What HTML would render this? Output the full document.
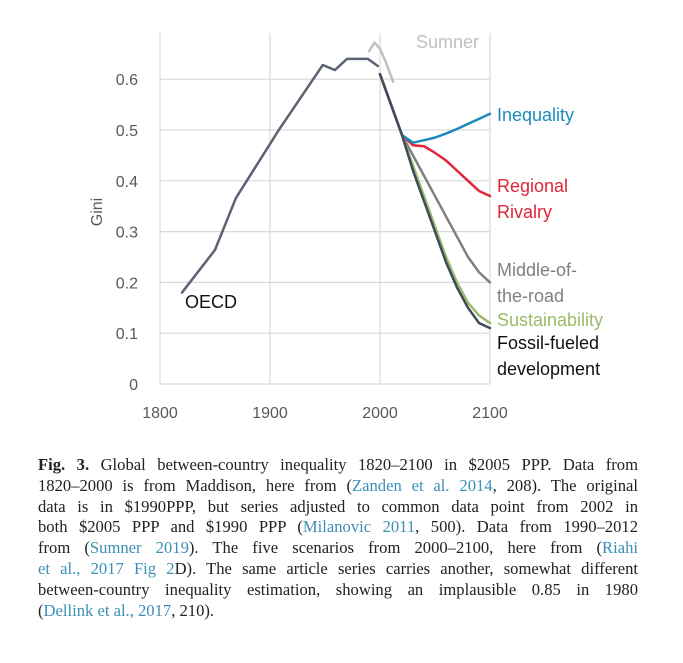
<!DOCTYPE html>
<html><head><meta charset="utf-8"><style>
body{margin:0;background:#fff;width:683px;height:663px;overflow:hidden;position:relative}
svg{position:absolute;left:0;top:0}
.cap{position:absolute;left:38px;top:455px;width:600px;font-family:"Liberation Serif",serif;font-size:16.6px;color:#222}
.cap div{height:20.8px;line-height:20.8px;text-align:justify;text-align-last:justify;white-space:nowrap}
.cap div.last{text-align-last:left}
.cap a{color:#3b8fb5;text-decoration:none}
</style></head><body>
<svg width="683" height="450" font-family="Liberation Sans, sans-serif">
<g id="grid"></g><g id="series"></g><g id="labels"></g>
</svg>
<div class="cap">
<div><b>Fig. 3.</b> Global between-country inequality 1820–2100 in $2005 PPP. Data from</div>
<div>1820–2000 is from Maddison, here from (<a>Zanden et al. 2014</a>, 208). The original</div>
<div>data is in $1990PPP, but series adjusted to common data point from 2002 in</div>
<div>both $2005 PPP and $1990 PPP (<a>Milanovic 2011</a>, 500). Data from 1990–2012</div>
<div>from (<a>Sumner 2019</a>). The five scenarios from 2000–2100, here from (<a>Riahi</a></div>
<div><a>et al., 2017 Fig 2</a>D). The same article series carries another, somewhat different</div>
<div>between-country inequality estimation, showing an implausible 0.85 in 1980</div>
<div class="last">(<a>Dellink et al., 2017</a>, 210).</div>
</div>
<script>
const xTicks=[1800,1900,2000,2100];
const yTicks=[0,0.1,0.2,0.3,0.4,0.5,0.6];
const yTickLabels=["0","0.1","0.2","0.3","0.4","0.5","0.6"];
const oecdYears=[1820,1850,1869,1908,1948,1959,1970,1989,1998];
const oecdGini=[0.18,0.264,0.366,0.5,0.628,0.618,0.64,0.64,0.626];
const sumnerYears=[1990,1995,2000,2005,2012];
const sumnerGini=[0.655,0.672,0.66,0.635,0.595];
const scenYears=[2000,2010,2020,2030,2040,2050,2060,2070,2080,2090,2100];
const fossil=[0.61,0.55,0.49,0.42,0.36,0.30,0.24,0.19,0.15,0.12,0.11];
const sustain=[0.61,0.55,0.49,0.43,0.37,0.31,0.25,0.20,0.16,0.135,0.12];
const middle=[0.61,0.55,0.49,0.45,0.41,0.37,0.33,0.29,0.25,0.22,0.20];
const regional=[0.61,0.55,0.49,0.47,0.468,0.455,0.44,0.42,0.40,0.38,0.37];
const inequality=[0.61,0.55,0.49,0.475,0.48,0.485,0.493,0.502,0.512,0.522,0.532];
const NS='http://www.w3.org/2000/svg';
const X=y=>160+(y-1800)*1.1, Y=g=>384-g*508;
function mk(t,a,p){const e=document.createElementNS(NS,t);for(const k in a)e.setAttribute(k,a[k]);p.appendChild(e);return e;}
const grid=document.getElementById('grid'),ser=document.getElementById('series'),lab=document.getElementById('labels');
yTicks.forEach((v,i)=>{
 const l=mk('line',{x1:160,x2:490,y1:Y(v),y2:Y(v),stroke:'#d9d9d9','stroke-width':1.2},grid);
 
 
 const t=mk('text',{x:138,y:Y(v)+6,'text-anchor':'end','font-size':16,fill:'#595959'},lab);t.textContent=yTickLabels[i];
 
 
});
xTicks.forEach(v=>{
 const l=mk('line',{x1:X(v),x2:X(v),y1:33,y2:384,stroke:'#d9d9d9','stroke-width':1.2},grid);
 
 
 const t=mk('text',{x:X(v),y:418,'text-anchor':'middle','font-size':16,fill:'#595959'},lab);t.textContent=v;
 
 
});
const yt=mk('text',{x:102,y:212,'text-anchor':'middle','font-size':16,fill:'#595959',transform:'rotate(-90 102 212)'},lab);yt.textContent='Gini';


function line(xs,ys,col,w,name){
 const p=mk('polyline',{points:xs.map((x,i)=>X(x)+','+Y(ys[i])).join(' '),fill:'none',stroke:col,'stroke-width':w,'stroke-linejoin':'round','stroke-linecap':'round'},ser);
 
 
}
line(sumnerYears,sumnerGini,'#c0c0c0',2.5,'sumner-line');
line(scenYears,middle,'#808080',2.5,'middle-of-the-road-line');
line(scenYears,regional,'#e0263a',2.5,'regional-rivalry-line');
line(scenYears,inequality,'#1b8bbd',2.5,'inequality-line');
line(scenYears,sustain,'#9bbb6a',2.5,'sustainability-line');
line(scenYears,fossil,'#414a5c',2.5,'fossil-fueled-line');
line(oecdYears,oecdGini,'#5a6373',2.5,'oecd-line');
const L=[['Sumner',416,48,'#bfbfbf'],['Inequality',497,121,'#1b8bbd'],['Regional',497,192,'#e0263a'],['Rivalry',497,218,'#e0263a'],['Middle-of-',497,276,'#808080'],['the-road',497,302,'#808080'],['Sustainability',497,326,'#9bbb6a'],['Fossil-fueled',497,349,'#111'],['development',497,375,'#111'],['OECD',185,308,'#111']];
L.forEach(a=>{const t=mk('text',{x:a[1],y:a[2],'font-size':18,fill:a[3]},lab);t.textContent=a[0];
 
 });
</script>
</body></html>
